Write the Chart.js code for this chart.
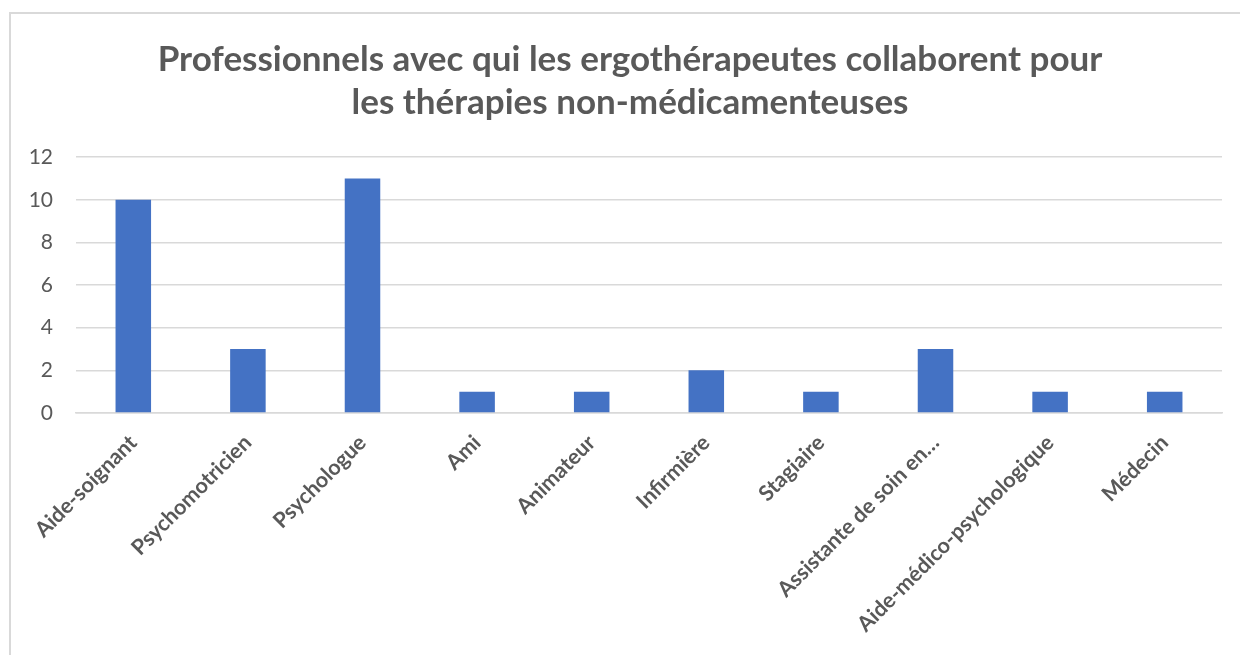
<!doctype html>
<html lang="fr">
  <head>
    <meta charset="utf-8">
    <title>Professionnels - ergothérapeutes</title>
    <style>
      * {
        margin: 0;
        padding: 0;
      }
      body {
        width: 1240px;
        height: 655px;
        overflow: hidden;
        background: #fff;
        position: relative;
      }
      .frame {
        position: absolute;
        left: 9px;
        top: 12px;
        width: 1300px;
        height: 700px;
        border: 2px solid #d9d9d9;
      }
      .chartBox {
        position: absolute;
        left: 0;
        top: 0;
        width: 1240px;
        height: 655px;
      }
    </style>
  </head>
  <body>
    <div class="frame"></div>
    <div class="chartBox">
      <canvas id="myChart"></canvas>
    </div>
    <script src="https://cdn.jsdelivr.net/npm/chart.js"></script>
    <script>
    // data
    const categories = [
      'Aide-soignant', 'Psychomotricien', 'Psychologue', 'Ami', 'Animateur',
      'Infirmière', 'Stagiaire', 'Assistante de soin en…', 'Aide-médico-psychologique', 'Médecin'
    ];
    const counts = [10, 3, 11, 1, 1, 2, 1, 3, 1, 1];
    const yTicks = [0, 2, 4, 6, 8, 10, 12];
    const titleLines = [
      'Professionnels avec qui les ergothérapeutes collaborent pour',
      'les thérapies non-médicamenteuses'
    ];

    const grey = '#595959';
    const gridGrey = '#d9d9d9';

    // config
    const config = {
      type: 'bar',
      data: {
        labels: categories,
        datasets: [{
          label: 'Nombre',
          data: counts,
          backgroundColor: '#4472C4',
          borderWidth: 0,
          barPercentage: 0.31,
          categoryPercentage: 1
        }]
      },
      options: {
        responsive: false,
        animation: false,
        layout: {
          padding: { top: 38, left: 28, right: 8, bottom: 0 }
        },
        plugins: {
          legend: { display: false },
          tooltip: { enabled: false },
          title: {
            display: true,
            text: titleLines,
            color: grey,
            font: { family: 'Lato', size: 35, weight: 'bold', lineHeight: 1.23 },
            padding: { top: 0, bottom: 33 }
          }
        },
        scales: {
          x: {
            grid: { display: false, drawTicks: false },
            border: { display: true, color: gridGrey, width: 1.5 },
            ticks: {
              color: grey,
              font: { family: 'Lato', size: 21.5, weight: 'bold' },
              maxRotation: 45,
              minRotation: 45,
              autoSkip: false,
              padding: 17
            },
            afterFit: (scale) => { scale.height = 242; }
          },
          y: {
            min: 0,
            max: 12,
            afterBuildTicks: (scale) => { scale.ticks = yTicks.map(v => ({ value: v })); },
            grid: { color: gridGrey, lineWidth: 1.5, drawTicks: false },
            border: { display: false },
            ticks: {
              color: grey,
              font: { family: 'Lato', size: 21 },
              padding: 23
            },
            afterFit: (scale) => { scale.width = 48; }
          },
          // empty spacer on the right so the title centres like the original
          spacer: {
            position: 'right',
            display: true,
            grid: { display: false, drawTicks: false },
            border: { display: false },
            ticks: { display: false },
            afterFit: (scale) => { scale.width = 10; }
          }
        }
      }
    };

    const canvas = document.getElementById('myChart');
    canvas.width = 1240;
    canvas.height = 655;
    const myChart = new Chart(canvas, config);
    </script>
  </body>
</html>
